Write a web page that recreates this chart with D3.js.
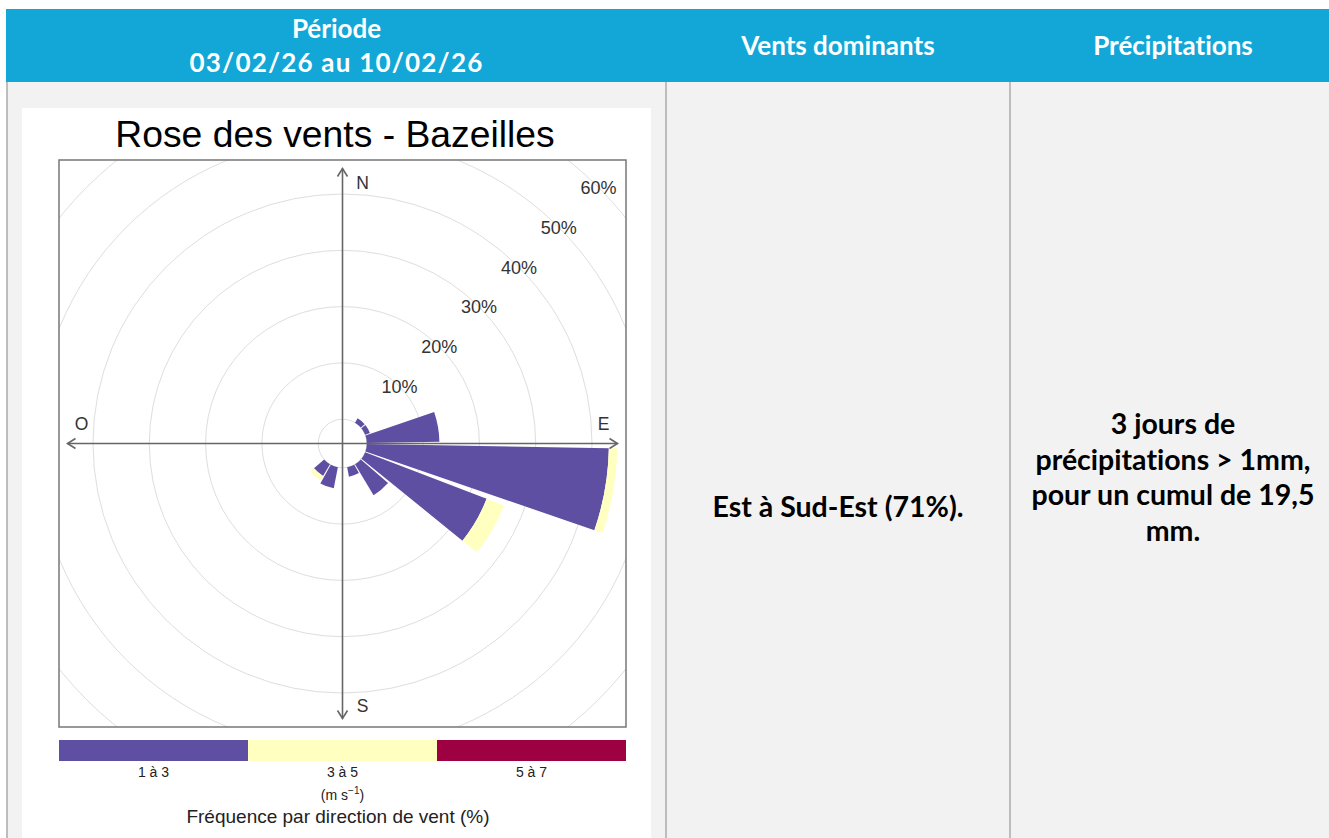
<!DOCTYPE html>
<html>
<head>
<meta charset="utf-8">
<script src="https://cdn.jsdelivr.net/npm/d3@7"></script>
<style>
html, body { margin: 0; padding: 0; background: #fff; }
svg { display: block; }
text { font-variant-ligatures: none; font-feature-settings: "liga" 0; }
</style>
</head>
<body>
<svg id="page" width="1329" height="838"></svg>
<script>
// rose des vents : fréquence (%) par secteur de 20°, par classe de vitesse
var directions = [40, 60, 80, 100, 120, 140, 160, 200, 220];
var speedBins = ["1 à 3", "3 à 5", "5 à 7"];
var freq1to3 = [0.9, 0.9, 12.9, 43.0, 23.1, 6.4, 1.7, 3.8, 2.4];
var freq3to5 = [0, 0, 0, 1.5, 3.3, 0, 0, 0, 0.9];
var freq5to7 = [0, 0, 0, 0, 0, 0, 0, 0, 0];
var ringTicks = [10, 20, 30, 40, 50, 60];
var compassLabels = ["N", "E", "S", "O"];
var compassAngles = [0, 90, 180, 270];

var headerTitles = [["Période", "03/02/26 au 10/02/26"], ["Vents dominants"], ["Précipitations"]];
var dominantText = ["Est à Sud-Est (71%)."];
var rainText = ["3 jours de", "précipitations > 1mm,", "pour un cumul de 19,5", "mm."];

var svg = d3.select("#page");
var W = 1329, H = 838;

// ---- tableau ----
var colEdges = [7, 666, 1010, 1336];
var headTop = 9, headBottom = 82;

svg.append("rect").attr("x", 6).attr("y", headBottom).attr("width", W - 6).attr("height", H - headBottom)
	.attr("fill", "#f2f2f2");
svg.append("rect").attr("x", 6).attr("y", headTop).attr("width", W - 6).attr("height", headBottom - headTop)
	.attr("fill", "#13a7d8");

svg.selectAll(".colBorder")
	.data(colEdges.slice(0, 3))
	.enter().append("line")
	.attr("class", "colBorder")
	.attr("x1", function(d){ return d; }).attr("x2", function(d){ return d; })
	.attr("y1", headBottom).attr("y2", H)
	.attr("stroke", "#bdbdbd").attr("stroke-width", 2);

var headFont = "Lato, 'Open Sans', sans-serif";
headerTitles.forEach(function(lines, i){
	var cx = (colEdges[i] + colEdges[i + 1]) / 2;
	var lh = 34;
	var y0 = (headTop + headBottom) / 2 - (lines.length - 1) * lh / 2;
	svg.append("g").selectAll("text")
		.data(lines)
		.enter().append("text")
		.attr("x", cx)
		.attr("y", function(d, j){ return y0 + j * lh; })
		.attr("dy", "0.36em")
		.attr("text-anchor", "middle")
		.attr("font-family", headFont)
		.attr("font-weight", 700)
		.attr("font-size", 26)
		.attr("letter-spacing", function(d){ return /\d/.test(d) ? 1.2 : 0; })
		.attr("fill", "#fff")
		.text(function(d){ return d; });
});

function cellText(lines, i, yMid){
	var cx = (colEdges[i] + colEdges[i + 1]) / 2;
	var lh = 35.5;
	var y0 = yMid - (lines.length - 1) * lh / 2;
	svg.append("g").selectAll("text")
		.data(lines)
		.enter().append("text")
		.attr("x", cx)
		.attr("y", function(d, j){ return y0 + j * lh; })
		.attr("dy", "0.36em")
		.attr("text-anchor", "middle")
		.attr("font-family", headFont)
		.attr("font-weight", 700)
		.attr("font-size", 28.5)
		.attr("fill", "#000")
		.text(function(d){ return d; });
}
cellText(dominantText, 1, 507);
cellText(rainText, 2, 477);

// ---- panneau de la rose ----
svg.append("rect").attr("x", 22).attr("y", 108).attr("width", 629).attr("height", H - 108)
	.attr("fill", "#fff");

var chartFont = "'Liberation Sans', Arial, sans-serif";
svg.append("text")
	.attr("x", 335).attr("y", 146.5)
	.attr("text-anchor", "middle")
	.attr("font-family", chartFont)
	.attr("font-size", 37.3)
	.attr("fill", "#000")
	.text("Rose des vents - Bazeilles");

var frame = {x: 59, y: 160, w: 567, h: 567};
var cx = frame.x + frame.w / 2, cy = frame.y + frame.h / 2;

svg.append("clipPath").attr("id", "frameClip")
	.append("rect").attr("x", frame.x).attr("y", frame.y).attr("width", frame.w).attr("height", frame.h);

var r = d3.scaleLinear().domain([0, 60]).range([24.3, 362.1]);
var color = d3.scaleOrdinal().domain(speedBins).range(["#5e4fa2", "#ffffbf", "#9e0142"]);

var plot = svg.append("g").attr("clip-path", "url(#frameClip)");
var center = plot.append("g").attr("transform", "translate(" + cx + "," + cy + ")");

// cercles de fréquence
center.selectAll(".ring")
	.data([0].concat(ringTicks))
	.enter().append("circle")
	.attr("class", "ring")
	.attr("r", function(d){ return r(d); })
	.attr("fill", "none")
	.attr("stroke", "#dedede")
	.attr("stroke-width", 1);

// secteurs empilés
var series = directions.map(function(dir, i){
	var vals = [freq1to3[i], freq3to5[i], freq5to7[i]];
	var acc = 0;
	return vals.map(function(v, k){
		var seg = {dir: dir, bin: speedBins[k], from: acc, to: acc + v};
		acc += v;
		return seg;
	}).filter(function(s){ return s.to > s.from; });
});
var segs = [].concat.apply([], series);

var halfWidth = 9 * Math.PI / 180;
var arc = d3.arc()
	.innerRadius(function(d){ return r(d.from); })
	.outerRadius(function(d){ return r(d.to); })
	.startAngle(function(d){ return d.dir * Math.PI / 180 - halfWidth; })
	.endAngle(function(d){ return d.dir * Math.PI / 180 + halfWidth; });

center.selectAll(".wedge")
	.data(segs)
	.enter().append("path")
	.attr("class", "wedge")
	.attr("d", arc)
	.attr("fill", function(d){ return color(d.bin); });

// axes fléchés
var axLen = 275;
var axG = svg.append("g").attr("transform", "translate(" + cx + "," + cy + ")")
	.attr("stroke", "#666").attr("stroke-width", 1.6).attr("fill", "none");
axG.append("line").attr("x1", 0).attr("y1", axLen).attr("x2", 0).attr("y2", -axLen);
axG.append("line").attr("x1", -axLen).attr("y1", 0).attr("x2", axLen).attr("y2", 0);
axG.selectAll(".head")
	.data(compassAngles)
	.enter().append("path")
	.attr("class", "head")
	.attr("transform", function(d){ return "rotate(" + d + ")"; })
	.attr("d", "M-5," + (-axLen + 8) + "L0," + (-axLen) + "L5," + (-axLen + 8));

// lettres cardinales
svg.append("g").selectAll("text")
	.data(compassLabels)
	.enter().append("text")
	.attr("x", function(d, i){
		var a = compassAngles[i] * Math.PI / 180;
		return cx + 261 * Math.sin(a) + (i % 2 === 0 ? 20 : 0);
	})
	.attr("y", function(d, i){
		var a = compassAngles[i] * Math.PI / 180;
		return cy - 261 * Math.cos(a) + (i % 2 === 1 ? -20 : 0) + (i === 2 ? 1.5 : 0);
	})
	.attr("dy", "0.36em")
	.attr("text-anchor", "middle")
	.attr("font-family", chartFont)
	.attr("font-size", 17.5)
	.attr("fill", "#333")
	.text(function(d){ return d; });

// étiquettes des cercles
svg.append("g").selectAll("text")
	.data(ringTicks)
	.enter().append("text")
	.attr("x", function(d){ return cx + r(d) * Math.SQRT1_2; })
	.attr("y", function(d){ return cy - r(d) * Math.SQRT1_2; })
	.attr("dy", "0.36em")
	.attr("text-anchor", "middle")
	.attr("font-family", chartFont)
	.attr("font-size", 18)
	.attr("fill", "#333")
	.text(function(d){ return d + "%"; });

// cadre
svg.append("rect")
	.attr("x", frame.x).attr("y", frame.y).attr("width", frame.w).attr("height", frame.h)
	.attr("fill", "none").attr("stroke", "#777").attr("stroke-width", 1.5);

// légende
var lx = d3.scaleBand().domain(speedBins).range([frame.x, frame.x + frame.w]);
var leg = svg.append("g");
leg.selectAll("rect")
	.data(speedBins)
	.enter().append("rect")
	.attr("x", function(d){ return lx(d); })
	.attr("y", 740)
	.attr("width", lx.bandwidth())
	.attr("height", 21)
	.attr("fill", function(d){ return color(d); });
leg.selectAll("text")
	.data(speedBins)
	.enter().append("text")
	.attr("x", function(d){ return lx(d) + lx.bandwidth() / 2; })
	.attr("y", 777)
	.attr("text-anchor", "middle")
	.attr("font-family", "'Liberation Sans Narrow', 'Liberation Sans', sans-serif")
	.attr("font-size", 14)
	.attr("fill", "#222")
	.text(function(d){ return d; });

var unit = leg.append("text")
	.attr("x", cx).attr("y", 800)
	.attr("text-anchor", "middle")
	.attr("font-family", "'Liberation Sans Narrow', 'Liberation Sans', sans-serif")
	.attr("font-size", 14)
	.attr("fill", "#222");
unit.append("tspan").text("(m s");
unit.append("tspan").attr("dy", -6).attr("font-size", 10).text("−1");
unit.append("tspan").attr("dy", 6).text(")");

leg.append("text")
	.attr("x", 338).attr("y", 823)
	.attr("text-anchor", "middle")
	.attr("font-family", chartFont)
	.attr("font-size", 19)
	.attr("fill", "#222")
	.text("Fréquence par direction de vent (%)");
</script>
</body>
</html>
